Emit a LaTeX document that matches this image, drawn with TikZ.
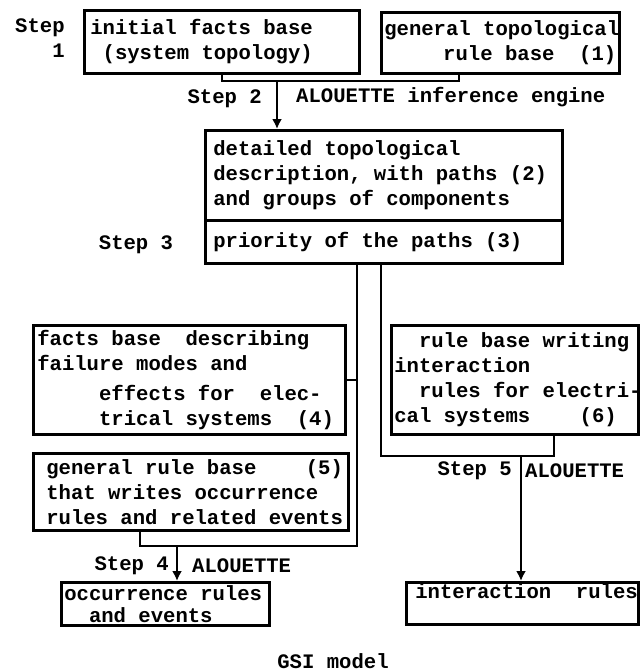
\documentclass[tikz,border=0pt]{standalone}
\usepackage{fontspec}
\setmonofont{Liberation Mono}
\usetikzlibrary{arrows.meta}
% typewriter text, one space = one character
\protected\def\gsifont{\ttfamily\bfseries\fontsize{20.6}{25}\selectfont
  \def~{\nobreak\hspace{0.6em}}}

\begin{document}
\begin{tikzpicture}[x=1pt,y=1pt,
    every node/.style={font=\gsifont},
    box/.style={draw, line width=2.6pt, anchor=north west, inner ysep=0pt, align=left},
    link/.style={line width=2.4pt, line join=miter},
    arrow/.style={link, -{Latex[length=10pt,width=10pt]}},
    steptext/.style={inner sep=0pt}]
  \useasboundingbox (0,0) rectangle (644,-672);
  % inputs of step 2
  \node[box, minimum width=275pt, minimum height=63pt, text width=263pt, inner xsep=6pt] (facts) at (83,-9)
    {initial~facts~base\\\phantom{x}(system~topology)};
  \node[box, align=right, minimum width=238pt, minimum height=61pt, text width=232pt, inner xsep=3pt] (toporules) at (380,-11)
    {general~topological\\rule~base~~(1)};
  \node[steptext, anchor=north west, align=left] (step1) at (15,-19) {Step\\\phantom{Ste}1};
  % topological description
  \node[box, minimum width=357pt, minimum height=90pt, text width=341pt, inner xsep=8pt] (topo) at (204,-129)
    {detailed~topological\\description,~with~paths~(2)\\and~groups~of~components};
  \node[box, minimum width=357pt, minimum height=43pt, text width=341pt, inner xsep=8pt] (prio) at (204,-219)
    {priority~of~the~paths~(3)};
  % bases for steps 4 and 5
  \node[box, minimum width=312pt, minimum height=109pt, text width=304pt, inner xsep=4pt] (failfacts) at (32,-324)
    {facts~base~~describing\\failure~modes~and\\[5pt]\phantom{xxxxx}effects~for~~elec-\\\phantom{xxxxx}trical~systems~~(4)};
  \node[box, minimum width=315pt, minimum height=77pt, text width=289pt, inner xsep=13pt] (occrules) at (32,-452)
    {general~rule~base~~~~(5)\\that~writes~occurrence\\rules~and~related~events};
  \node[box, minimum width=247pt, minimum height=109pt, text width=241pt, inner xsep=3pt] (interrules) at (390,-324)
    {\phantom{xx}rule~base~writing\\interaction\\\phantom{xx}rules~for~electri-\\cal~systems~~~~(6)};
  % results
  \node[box, minimum width=208pt, minimum height=43pt, text width=202pt, inner xsep=3pt] (occur) at (60,-581)
    {occurrence~rules\\[-3pt]\phantom{xx}and~events};
  \node[box, minimum width=232pt, minimum height=42pt, text width=214pt, inner xsep=9pt] (inter) at (405,-581)
    {interaction~~rules\\\mbox{}};

  \coordinate (joinA) at (277,-81);
  \coordinate (joinB) at (459,-81);
  \coordinate (leftbus) at (357,-546);
  \coordinate (ebus) at (140,-546);
  \coordinate (joinD) at (177,-546);
  \coordinate (rightbus) at (381,-456);
  \coordinate (fbus) at (554,-456);
  \coordinate (joinE) at (521,-456);

  % step 2
  \draw[link] (facts.south) -- (facts.south |- joinA) -- (joinB) -- (joinB |- toporules.south);
  \draw[arrow] (joinA) -- (joinA |- topo.north);
  \node[steptext, anchor=east] (step2) at (262,-99) {Step~2};
  \node[steptext, anchor=west] (engine) at (296,-97) {ALOUETTE~inference~engine};
  \node[steptext] (step3) at (136,-245) {Step~3};
  % step 4
  \draw[link] (prio.south -| leftbus) -- (leftbus) -- (ebus) -- (ebus |- occrules.south);
  \draw[link] (failfacts.east) -- (failfacts.east -| leftbus);
  \draw[arrow] (joinD) -- (joinD |- occur.north);
  \node[steptext, anchor=east] (step4) at (169,-566) {Step~4};
  \node[steptext, anchor=west] (alouette4) at (192,-566) {ALOUETTE};
  % step 5
  \draw[link] (prio.south -| rightbus) -- (rightbus) -- (fbus) -- (fbus |- interrules.south);
  \draw[arrow] (joinE) -- (joinE |- inter.north);
  \node[steptext, anchor=east] (step5) at (512,-471) {Step~5};
  \node[steptext, anchor=west] (alouette5) at (525,-471) {ALOUETTE};

  \node[steptext] (caption) at (333,-661) {GSI~model};
\end{tikzpicture}
\end{document}
